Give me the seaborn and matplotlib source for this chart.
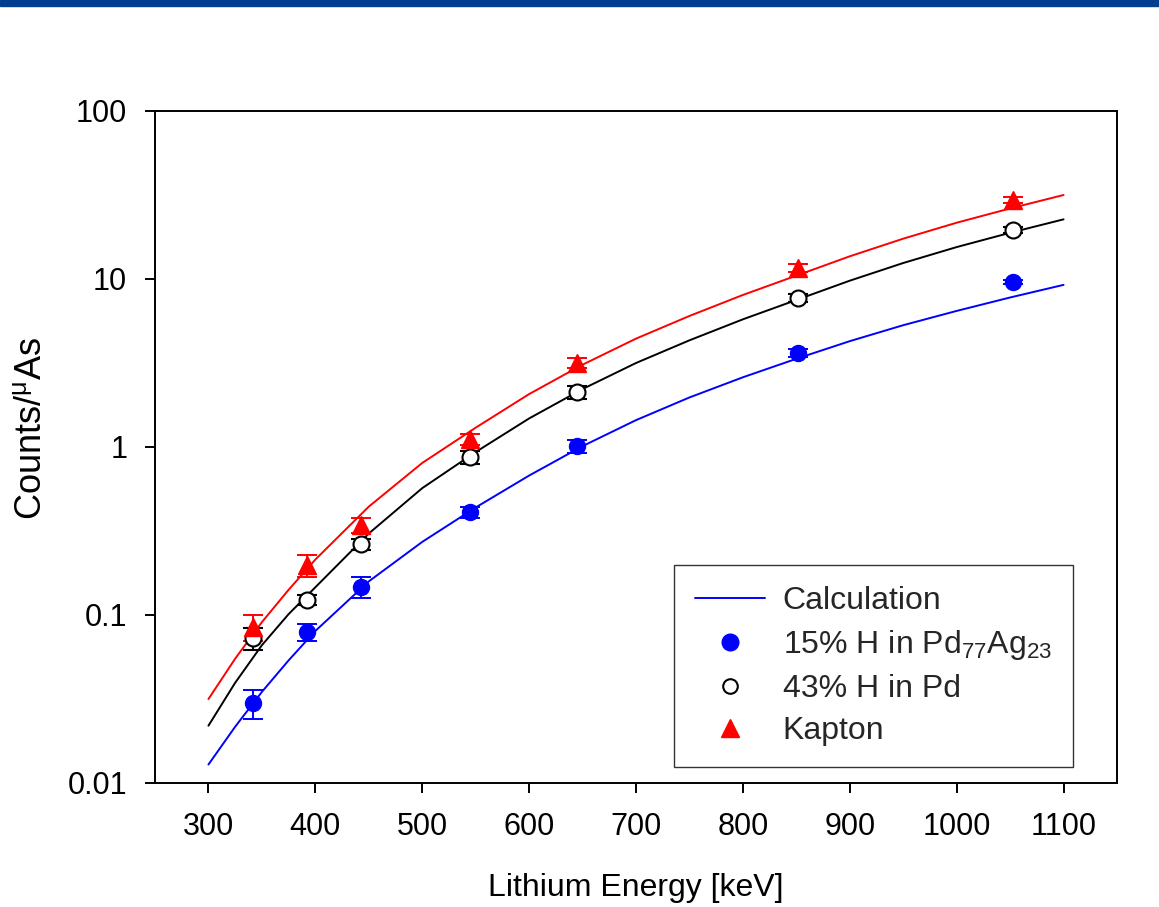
import numpy as np
import pandas as pd
import matplotlib
matplotlib.use("Agg")
import matplotlib.pyplot as plt
import seaborn as sns
from matplotlib.lines import Line2D
from matplotlib.patches import Rectangle
from matplotlib.ticker import NullLocator

# ---------------- data ----------------
calc_energy = [300, 325, 350, 375, 400, 450, 500, 550, 600, 650, 700, 750, 800, 850, 900, 950, 1000, 1050, 1100]
calc_pdag = [0.01288, 0.02163, 0.03486, 0.0537, 0.08035, 0.1585, 0.2723, 0.4365, 0.6761, 1.012,
             1.445, 1.972, 2.600, 3.350, 4.266, 5.309, 6.457, 7.762, 9.226]
calc_pd = [0.02193, 0.0395, 0.0661, 0.1012, 0.1462, 0.3055, 0.5689, 0.9333, 1.479, 2.213,
           3.162, 4.315, 5.754, 7.499, 9.772, 12.45, 15.49, 18.84, 22.65]
calc_kapton = [0.0316, 0.05495, 0.0907, 0.1413, 0.2138, 0.4416, 0.8035, 1.303, 2.065, 3.090,
               4.416, 6.026, 8.035, 10.47, 13.65, 17.38, 21.63, 26.30, 31.62]

meas_energy = [342, 392, 443, 545, 645, 852, 1053]
pdag_vals = [0.030, 0.079, 0.147, 0.41, 1.01, 3.63, 9.6]
pdag_err = [0.006, 0.009, 0.021, 0.03, 0.095, 0.2, 0.3]
pd_vals = [0.073, 0.123, 0.265, 0.87, 2.12, 7.7, 19.6]
pd_err = [0.011, 0.009, 0.02, 0.075, 0.18, 0.43, 0.8]
kapton_vals = [0.085, 0.198, 0.342, 1.11, 3.16, 11.6, 29.5]
kapton_err = [0.0145, 0.03, 0.035, 0.085, 0.22, 0.65, 1.2]

x_ticks = [300, 400, 500, 600, 700, 800, 900, 1000, 1100]
y_ticks = [0.01, 0.1, 1, 10, 100]
y_tick_labels = ["0.01", "0.1", "1", "10", "100"]

legend_labels = ["Calculation", "15% H in Pd$_{77}$Ag$_{23}$", "43% H in Pd", "Kapton"]

# ---------------- style ----------------
sns.set_theme(style="ticks")
plt.rcParams["font.family"] = ["Liberation Sans", "DejaVu Sans"]
plt.rcParams["mathtext.default"] = "regular"

fig = plt.figure(figsize=(11.59, 9.07), dpi=100)
ax = fig.add_axes([155 / 1159, 1 - 783 / 907, 962 / 1159, 672 / 907])

calc_df = pd.DataFrame({
    "energy": calc_energy * 3,
    "counts": calc_pdag + calc_pd + calc_kapton,
    "sample": ["pdag"] * len(calc_energy) + ["pd"] * len(calc_energy) + ["kapton"] * len(calc_energy),
})
sns.lineplot(data=calc_df, x="energy", y="counts", hue="sample",
             palette={"pdag": "#0000ff", "pd": "black", "kapton": "#ff0000"},
             estimator=None, legend=False, linewidth=1.4, ax=ax, zorder=2)
ax.set_yscale("log")

eb = dict(elinewidth=1.4, capsize=7, capthick=1.4, linestyle="none", zorder=3)
ax.errorbar(meas_energy, pdag_vals, yerr=pdag_err, marker="o", ms=11.5,
            mfc="#0000ff", mec="#0000ff", ecolor="#0000ff", **eb)
ax.errorbar(meas_energy, pd_vals, yerr=pd_err, marker="o", ms=11.5,
            mfc="white", mec="black", mew=1.5, ecolor="black", **eb)
ax.errorbar(meas_energy, kapton_vals, yerr=kapton_err, marker="^", ms=13,
            mfc="#ff0000", mec="#ff0000", ecolor="#ff0000", **eb)

ax.set_xlim(250, 1150)
ax.set_ylim(0.01, 100)
ax.set_xticks(x_ticks)
ax.set_xticklabels([str(t) for t in x_ticks])
ax.set_yticks(y_ticks)
ax.set_yticklabels(y_tick_labels)
ax.yaxis.set_minor_locator(NullLocator())
ax.xaxis.set_minor_locator(NullLocator())
ax.tick_params(axis="both", direction="out", length=7, width=1.4, labelsize=22,
               colors="black", top=False, right=False)
ax.tick_params(axis="x", pad=14)
ax.tick_params(axis="y", pad=13)
for s in ax.spines.values():
    s.set_linewidth(1.4)
    s.set_color("black")
    s.set_visible(True)

ax.set_xlabel("Lithium Energy [keV]", fontsize=23, color="black", labelpad=22)
ax.set_ylabel("Counts/$^{μ}$As", fontsize=26, color="black")
ax.yaxis.set_label_coords(-0.110, 0.527)

handles = [
    Line2D([], [], color="#0000ff", lw=1.4),
    Line2D([], [], marker="o", ls="none", ms=12, mfc="#0000ff", mec="#0000ff"),
    Line2D([], [], marker="o", ls="none", ms=10.5, mfc="white", mec="black", mew=1.5),
    Line2D([], [], marker="^", ls="none", ms=13, mfc="#ff0000", mec="#ff0000"),
]
leg = ax.legend(handles, legend_labels, loc="lower right", bbox_to_anchor=(0.954, 0.0238),
                frameon=True, fancybox=False, edgecolor="black", fontsize=23,
                handlelength=2.2, handletextpad=0.55, borderpad=0.65, labelspacing=0.38,
                borderaxespad=0)
leg.get_frame().set_linewidth(1.0)

fig.add_artist(Rectangle((0, 1 - 6 / 907), 1, 6 / 907, transform=fig.transFigure,
                         color="#003d8f", zorder=10))

fig.savefig("out.png", dpi=100)
